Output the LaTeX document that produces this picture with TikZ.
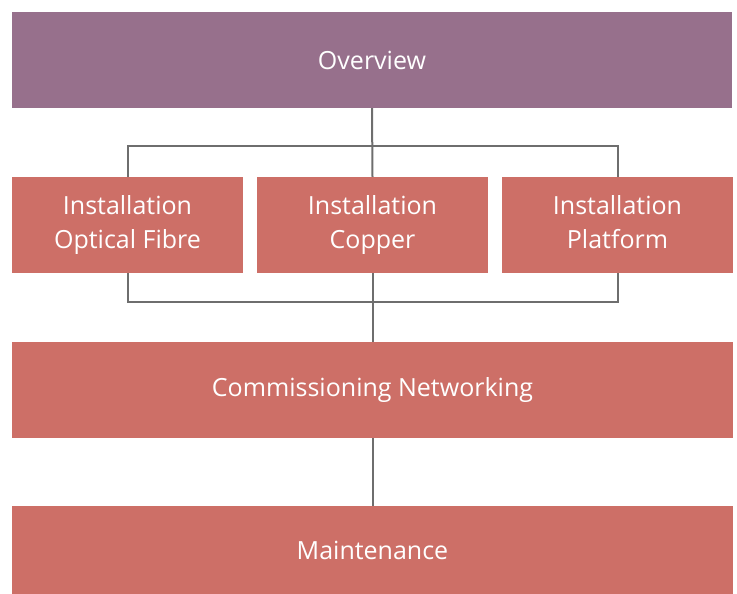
\documentclass[tikz,border=0pt]{standalone}
\usepackage{fontspec}
\setmainfont{Open Sans}
\usetikzlibrary{positioning, calc}
\definecolor{plum}{HTML}{97708C}
\definecolor{terra}{HTML}{CD6F67}
\definecolor{wire}{HTML}{6E6E6E}

\begin{document}
\begin{tikzpicture}[
  x=1pt, y=-1pt,
  box/.style={fill=terra, text=white, align=center, inner sep=0pt,
    minimum height=96pt, font=\fontsize{25}{34}\selectfont},
  wide/.style={box, minimum width=721pt},
  narrow/.style={box, minimum width=231pt},
  link/.style={draw=wire, line width=2pt},
]

% Page frame
\useasboundingbox (0,0) rectangle (737,594);

% =============================================
% Boxes
% =============================================

\node[wide, fill=plum, minimum width=720pt] (overview) at (372,60) {Overview};

\node[narrow] (fibre)    at (127.5,225) {Installation\strut\\Optical Fibre\strut};
\node[narrow] (copper)   at (372.5,225) {Installation\strut\\Copper\strut};
\node[narrow] (platform) at (617.5,225) {Installation\strut\\Platform\strut};

\node[wide] (commission) at (372.5,390) {Commissioning Networking};
\node[wide, minimum height=88pt] (maint) at (372.5,550) {Maintenance};

% =============================================
% Connectors
% =============================================

% Fan out from the overview
\coordinate (topbus) at (371,146);
\draw[link] (overview.south) -- (copper.north);
\draw[link] (fibre.north) |- (topbus) -| (platform.north);

% Gather into commissioning
\coordinate (lowbus) at (371,302);
\draw[link] (copper.south) -- (commission.north);
\draw[link] (fibre.south) |- (lowbus) -| (platform.south);

% On to maintenance
\draw[link] (commission.south) -- (maint.north);

\end{tikzpicture}
\end{document}
